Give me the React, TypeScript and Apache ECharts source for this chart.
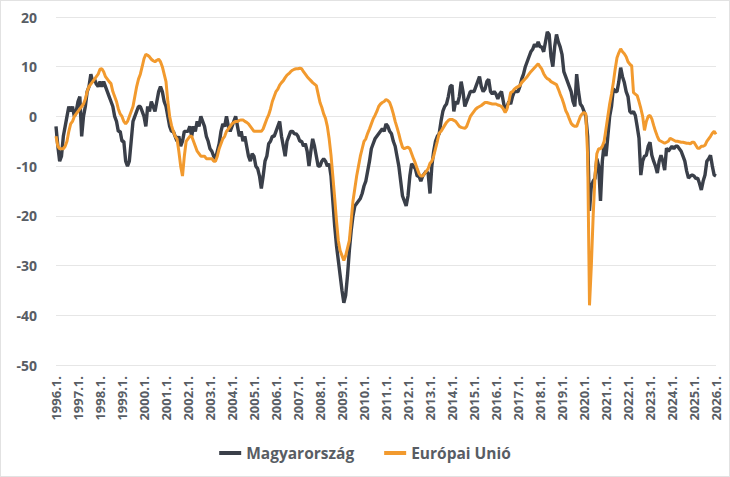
import React, { useEffect, useRef } from "react";
import * as echarts from "echarts";

const years: number[] = [];
for (let y = 1996; y <= 2026; y++) years.push(y);

// monthly categories 1996.1. ... 2026.1.
const categories: string[] = [];
years.forEach((y) => {
  for (let m = 1; m <= 12; m++) {
    if (y === 2026 && m > 1) break;
    categories.push(`${y}.${m}.`);
  }
});

const seriesNames = ["Magyarország", "Európai Unió"];

const hungary: number[] = [
  -2, -6, -9, -8, -4, -2, 0, 2, 1, 2, 0, 1, // 1996
  3, 4, -4, 0, 2, 5, 6, 8.5, 7, 7.5, 6.5, 6, // 1997
  7, 6, 7, 6, 5, 4, 3, 2, 0, -1, -3, -3, // 1998
  -5, -5, -9, -10, -9, -5, -1, 0, 1, 2, 2, 1, // 1999
  0, -2, 2, 1, 3, 2, 1, 3, 5, 6, 5, 3, // 2000
  2, 0, -2, -3, -3, -4, -5, -4, -6, -5, -3, -3, // 2001
  -3, -2, -4, -2, -3, -1, -2, 0, -1, -2, -4, -5, // 2002
  -6.5, -7, -8, -8.5, -7, -5.5, -3, -1.5, -2, 0, -2, -3, // 2003
  -2, -1, 0, -2, -4, -3, -5, -4, -6, -8, -9, -7.5, // 2004
  -8, -10, -10.5, -12, -14.5, -12, -9, -8, -5.5, -5, -4, -4, // 2005
  -3, -2, -1, -4, -6, -8, -5, -4, -3, -3, -3.5, -3.5, // 2006
  -4, -5, -5, -6, -5.5, -7, -10, -7, -4.5, -6, -8, -10, // 2007
  -10, -9, -8.5, -9, -10, -9.5, -12, -17, -22, -26, -29, -32, // 2008
  -35, -37.5, -36, -32, -27, -23, -20, -18, -17.5, -17, -16.5, -15.5, // 2009
  -14, -13, -11, -9, -6.5, -5.5, -4.5, -4, -3.5, -3, -2.5, -3, // 2010
  -1.5, -2, -3, -3.5, -5, -6, -8, -10, -13, -16, -17, -18, // 2011
  -16, -12, -9.5, -10, -10.5, -12, -12, -13, -12, -11.5, -11, -11.5, // 2012
  -15.5, -10, -7, -5, -4, -3.5, -1, 1, 2, 2.5, 4, 6, // 2013
  6.3, 1, 3, 2.5, 4, 7, 5, 2, 3, 4, 5, 5, // 2014
  5, 6, 7, 8, 6, 5, 5.5, 7, 7.5, 5, 4.5, 5, // 2015
  4.5, 3.5, 4.5, 5, 3, 1, 2, 3, 2.5, 4, 5, 5, // 2016
  5, 6, 7.5, 8.5, 10, 11, 12, 13, 13.5, 14.5, 14, 15, // 2017
  14, 14, 13, 15, 17, 16.5, 12, 10, 14, 16.5, 15, 14, // 2018
  12.5, 9, 8, 7, 6, 5, 3, 2, 8.5, 5, 2.5, 2, // 2019
  1, 0, -4, -19, -14, -13, -12.5, -8.5, -10, -17, -9, -5.5, // 2020
  -8, -4, 0, 2, 5.6, 5, 5, 7, 9.8, 8, 6.8, 5, // 2021
  4, 1, 0.6, 1, 0.2, -2, -4.4, -11.8, -9, -8, -7.8, -6, // 2022
  -5.2, -7.8, -9, -10, -11.4, -9, -7.8, -9, -10.8, -6.4, -7, -6.5, // 2023
  -6, -6.5, -6, -6, -6.5, -7, -8, -9, -11, -12.4, -12, -11.8, // 2024
  -12, -12.5, -12.4, -13.5, -14.8, -13, -11.8, -9, -8.5, -7.8, -10, -11.8, // 2025
  -12, // 2026
];

const eu: number[] = [
  -4, -6, -6.5, -6.5, -6.5, -6, -5, -3, -1.5, -1, 0, 0.5, // 1996
  1, 1.5, 2, 2.5, 3.5, 5, 6, 6.5, 7, 7.5, 8, 8.5, // 1997
  9.5, 9.6, 9, 8, 7.5, 7, 6.6, 5, 4, 3, 1.5, 0.5, // 1998
  0, -1, -1.5, -1, 0, 1, 2, 4, 6, 7.5, 8.5, 10, // 1999
  11.6, 12.5, 12.3, 12, 11.5, 11.2, 11, 11.3, 11.5, 11, 10, 8.5, // 2000
  7, 3, 0, -1.8, -3, -4, -4.5, -7, -10, -12, -8, -5, // 2001
  -4.5, -4, -4, -5, -6, -7, -7.5, -8, -8, -8, -8.5, -8.5, // 2002
  -8.5, -8.5, -9, -9, -8, -6.5, -5.5, -4.5, -4, -3, -2.5, -2, // 2003
  -1.5, -1.2, -1, -1, -0.8, -0.7, -0.7, -1, -1.2, -1.5, -2, -2.5, // 2004
  -3, -3, -3, -3, -3, -2.5, -1.5, -0.5, 0.3, 1.5, 3, 4, // 2005
  5, 5.5, 6.3, 6.8, 7.2, 7.8, 8.3, 8.6, 9, 9.3, 9.5, 9.6, // 2006
  9.6, 9.7, 9.6, 9, 8.5, 8, 7.6, 7.2, 6.8, 6.5, 6.2, 4.5, // 2007
  2.8, 1.8, 0.5, -0.4, -2, -4.5, -7.8, -12, -16.4, -21, -25, -27, // 2008
  -28, -29, -28, -26.5, -25, -21, -17, -14.5, -12, -10, -8, -6.5, // 2009
  -5, -4.5, -3.4, -2.5, -1.5, -0.5, 0.2, 1, 2, 2.5, 2.8, 3, // 2010
  3.4, 3.2, 2.8, 1.8, 0.5, -1, -2.2, -3.5, -5, -6.2, -6.5, -6.3, // 2011
  -6.2, -6.5, -7.5, -8.5, -9.4, -10.5, -11.5, -12, -12, -11.5, -11, -10.5, // 2012
  -9.4, -9, -8, -6.5, -5, -3.4, -3, -2.4, -1.8, -1.2, -0.8, -0.6, // 2013
  -0.6, -0.8, -1, -1.5, -2, -2.2, -2.3, -2.4, -2, -1, 0, 0.5, // 2014
  1, 1.5, 1.8, 2, 2.2, 2.5, 2.8, 2.8, 2.7, 2.6, 2.5, 2.5, // 2015
  2.5, 2.3, 2.2, 2, 1.5, 0.8, 1.5, 3, 4.8, 5, 5.5, 5.8, // 2016
  6, 6.2, 6.8, 7.2, 7.6, 8, 8.5, 9, 9.4, 9.8, 10.2, 10.6, // 2017
  10, 9.5, 8.6, 8, 7.6, 7.4, 7, 6.8, 6.6, 6.4, 5.5, 4.5, // 2018
  3.6, 2.5, 1.2, 0.5, -0.5, -1.4, -1.8, -2, -2, -1, 0, 0.5, // 2019
  0.8, 0.5, -8, -38, -30, -20, -12, -7.5, -6.5, -6.5, -6, -5, // 2020
  -2.5, 0, 2.5, 4.5, 6.8, 9.5, 11.8, 12.8, 13.6, 13, 12.6, 12, // 2021
  11, 10.5, 10.2, 4.8, 4.5, 4.2, 3, 1.6, 0, -2.8, -1, 0, // 2022
  0.2, -0.5, -1.8, -3, -4, -4.8, -5, -5.2, -5.4, -5.2, -5, -4.4, // 2023
  -4.6, -4.8, -5, -5, -5.1, -5.2, -5.2, -5.3, -5.4, -5.4, -5.5, -5.2, // 2024
  -5.2, -5.8, -6.4, -6.4, -6, -6, -5.8, -5, -4.5, -4, -3.4, -3, // 2025
  -3.6, // 2026
];

const FONT = "'Open Sans', 'DejaVu Sans', sans-serif";
const TEXT_COLOR = "#585d64";
const DARK = "#3a3f49";
const ORANGE = "#f29a2e";

export default function App() {
  const ref = useRef<HTMLDivElement>(null);

  useEffect(() => {
    document.body.style.margin = "0";
    if (!ref.current) return;
    const chart = echarts.init(ref.current, undefined, { renderer: "svg" });
    chart.setOption({
      animation: false,
      backgroundColor: "#ffffff",
      grid: { left: 55, right: 13, top: 16, bottom: 111, containLabel: false },
      legend: {
        bottom: 10,
        left: "center",
        itemGap: 30,
        itemWidth: 22,
        itemHeight: 4,
        icon: "rect",
        textStyle: { fontFamily: FONT, fontSize: 15.5, fontWeight: "bold", color: TEXT_COLOR },
        data: seriesNames,
      },
      xAxis: {
        type: "category",
        data: categories,
        boundaryGap: false,
        axisLine: { show: false },
        axisTick: { show: false },
        splitLine: { show: false },
        axisLabel: {
          interval: (index: number) => index % 12 === 0,
          rotate: 90,
          margin: 11,
          fontFamily: FONT,
          fontSize: 13,
          fontWeight: "bold",
          color: TEXT_COLOR,
        },
      },
      yAxis: {
        type: "value",
        min: -50,
        max: 20,
        interval: 10,
        axisLine: { show: false },
        axisTick: { show: false },
        splitLine: { lineStyle: { color: "#e6e6e6", width: 1 } },
        axisLabel: {
          margin: 19,
          fontFamily: FONT,
          fontSize: 14,
          fontWeight: "bold",
          color: TEXT_COLOR,
        },
      },
      series: [
        {
          name: seriesNames[0],
          type: "line",
          data: hungary,
          symbol: "none",
          lineStyle: { color: DARK, width: 3.4 },
          itemStyle: { color: DARK },
        },
        {
          name: seriesNames[1],
          type: "line",
          data: eu,
          symbol: "none",
          lineStyle: { color: ORANGE, width: 3 },
          itemStyle: { color: ORANGE },
        },
      ],
    });
    return () => chart.dispose();
  }, []);

  return (
    <div
      style={{
        position: "absolute",
        left: 0,
        top: 0,
        width: 730,
        height: 477,
        boxSizing: "border-box",
        border: "1px solid #e2e2e2",
        background: "#fff",
      }}
    >
      <div ref={ref} style={{ width: 728, height: 475 }} />
    </div>
  );
}
